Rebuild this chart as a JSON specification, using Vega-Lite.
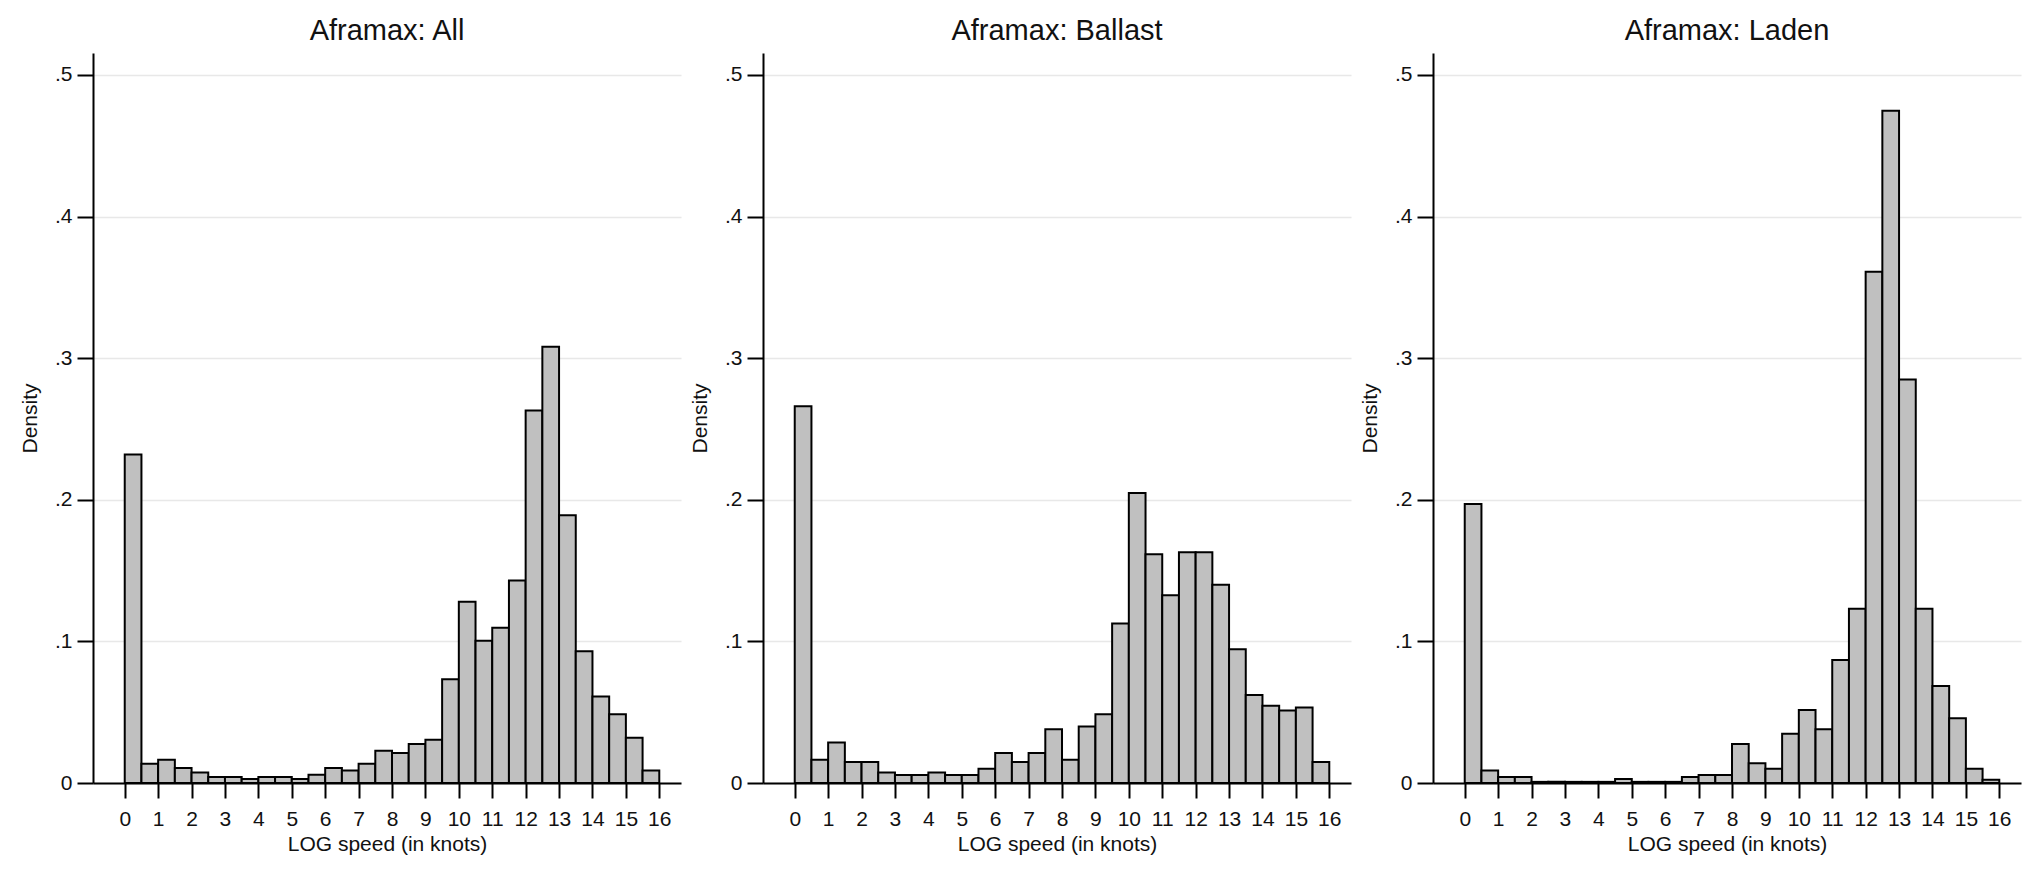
{
  "$schema": "https://vega.github.io/schema/vega-lite/v6.json",
  "padding": {"left": 19, "top": 17, "right": 2, "bottom": 2},
  "background": "white",
  "spacing": 8,
  "datasets": {
    "all": [
      {"lo": 0, "hi": 0.5, "density": 0.232}, {"lo": 0.5, "hi": 1, "density": 0.0136}, {"lo": 1, "hi": 1.5, "density": 0.0164}, {"lo": 1.5, "hi": 2, "density": 0.0106},
      {"lo": 2, "hi": 2.5, "density": 0.0075}, {"lo": 2.5, "hi": 3, "density": 0.0042}, {"lo": 3, "hi": 3.5, "density": 0.0042}, {"lo": 3.5, "hi": 4, "density": 0.0028},
      {"lo": 4, "hi": 4.5, "density": 0.0042}, {"lo": 4.5, "hi": 5, "density": 0.0042}, {"lo": 5, "hi": 5.5, "density": 0.0028}, {"lo": 5.5, "hi": 6, "density": 0.0059},
      {"lo": 6, "hi": 6.5, "density": 0.0106}, {"lo": 6.5, "hi": 7, "density": 0.0089}, {"lo": 7, "hi": 7.5, "density": 0.0136}, {"lo": 7.5, "hi": 8, "density": 0.0228},
      {"lo": 8, "hi": 8.5, "density": 0.0211}, {"lo": 8.5, "hi": 9, "density": 0.0275}, {"lo": 9, "hi": 9.5, "density": 0.0305}, {"lo": 9.5, "hi": 10, "density": 0.0732},
      {"lo": 10, "hi": 10.5, "density": 0.128}, {"lo": 10.5, "hi": 11, "density": 0.1005}, {"lo": 11, "hi": 11.5, "density": 0.1096}, {"lo": 11.5, "hi": 12, "density": 0.143},
      {"lo": 12, "hi": 12.5, "density": 0.263}, {"lo": 12.5, "hi": 13, "density": 0.308}, {"lo": 13, "hi": 13.5, "density": 0.189}, {"lo": 13.5, "hi": 14, "density": 0.093},
      {"lo": 14, "hi": 14.5, "density": 0.061}, {"lo": 14.5, "hi": 15, "density": 0.0486}, {"lo": 15, "hi": 15.5, "density": 0.032}, {"lo": 15.5, "hi": 16, "density": 0.0089}
    ],
    "ballast": [
      {"lo": 0, "hi": 0.5, "density": 0.266}, {"lo": 0.5, "hi": 1, "density": 0.0164}, {"lo": 1, "hi": 1.5, "density": 0.0286}, {"lo": 1.5, "hi": 2, "density": 0.0148},
      {"lo": 2, "hi": 2.5, "density": 0.0148}, {"lo": 2.5, "hi": 3, "density": 0.0075}, {"lo": 3, "hi": 3.5, "density": 0.0056}, {"lo": 3.5, "hi": 4, "density": 0.0056},
      {"lo": 4, "hi": 4.5, "density": 0.0075}, {"lo": 4.5, "hi": 5, "density": 0.0056}, {"lo": 5, "hi": 5.5, "density": 0.0056}, {"lo": 5.5, "hi": 6, "density": 0.0101},
      {"lo": 6, "hi": 6.5, "density": 0.0211}, {"lo": 6.5, "hi": 7, "density": 0.0148}, {"lo": 7, "hi": 7.5, "density": 0.0211}, {"lo": 7.5, "hi": 8, "density": 0.038},
      {"lo": 8, "hi": 8.5, "density": 0.0164}, {"lo": 8.5, "hi": 9, "density": 0.0399}, {"lo": 9, "hi": 9.5, "density": 0.0486}, {"lo": 9.5, "hi": 10, "density": 0.1127},
      {"lo": 10, "hi": 10.5, "density": 0.2047}, {"lo": 10.5, "hi": 11, "density": 0.1615}, {"lo": 11, "hi": 11.5, "density": 0.1326}, {"lo": 11.5, "hi": 12, "density": 0.163},
      {"lo": 12, "hi": 12.5, "density": 0.163}, {"lo": 12.5, "hi": 13, "density": 0.140}, {"lo": 13, "hi": 13.5, "density": 0.0944}, {"lo": 13.5, "hi": 14, "density": 0.0622},
      {"lo": 14, "hi": 14.5, "density": 0.0545}, {"lo": 14.5, "hi": 15, "density": 0.0512}, {"lo": 15, "hi": 15.5, "density": 0.0533}, {"lo": 15.5, "hi": 16, "density": 0.0148}
    ],
    "laden": [
      {"lo": 0, "hi": 0.5, "density": 0.197}, {"lo": 0.5, "hi": 1, "density": 0.0089}, {"lo": 1, "hi": 1.5, "density": 0.0042}, {"lo": 1.5, "hi": 2, "density": 0.0042},
      {"lo": 2, "hi": 2.5, "density": 0.0008}, {"lo": 2.5, "hi": 3, "density": 0.0008}, {"lo": 3, "hi": 3.5, "density": 0.0008}, {"lo": 3.5, "hi": 4, "density": 0.0008},
      {"lo": 4, "hi": 4.5, "density": 0.0008}, {"lo": 4.5, "hi": 5, "density": 0.0028}, {"lo": 5, "hi": 5.5, "density": 0.0008}, {"lo": 5.5, "hi": 6, "density": 0.0008},
      {"lo": 6, "hi": 6.5, "density": 0.0008}, {"lo": 6.5, "hi": 7, "density": 0.0042}, {"lo": 7, "hi": 7.5, "density": 0.0056}, {"lo": 7.5, "hi": 8, "density": 0.0056},
      {"lo": 8, "hi": 8.5, "density": 0.0275}, {"lo": 8.5, "hi": 9, "density": 0.014}, {"lo": 9, "hi": 9.5, "density": 0.0101}, {"lo": 9.5, "hi": 10, "density": 0.0347},
      {"lo": 10, "hi": 10.5, "density": 0.0516}, {"lo": 10.5, "hi": 11, "density": 0.038}, {"lo": 11, "hi": 11.5, "density": 0.0869}, {"lo": 11.5, "hi": 12, "density": 0.123},
      {"lo": 12, "hi": 12.5, "density": 0.361}, {"lo": 12.5, "hi": 13, "density": 0.4747}, {"lo": 13, "hi": 13.5, "density": 0.285}, {"lo": 13.5, "hi": 14, "density": 0.123},
      {"lo": 14, "hi": 14.5, "density": 0.0685}, {"lo": 14.5, "hi": 15, "density": 0.0458}, {"lo": 15, "hi": 15.5, "density": 0.0101}, {"lo": 15.5, "hi": 16, "density": 0.0023}
    ]
  },
  "hconcat": [
    {
      "title": "Aframax: All",
      "data": {"name": "all"},
      "width": 588, "height": 730,
      "mark": {"type": "bar", "fill": "#c0c0c0", "stroke": "#000000", "strokeWidth": 2},
      "encoding": {
        "x": {"field": "lo", "type": "quantitative", "title": "LOG speed (in knots)",
              "scale": {"domain": [-0.95, 16.65], "nice": false, "zero": false},
              "axis": {"values": [0,1,2,3,4,5,6,7,8,9,10,11,12,13,14,15,16], "grid": false}},
        "x2": {"field": "hi"},
        "y": {"field": "density", "type": "quantitative", "title": "Density",
              "scale": {"domain": [0, 0.5155], "nice": false},
              "axis": {"values": [0, 0.1, 0.2, 0.3, 0.4, 0.5], "grid": true,
                       "labelExpr": "datum.value == 0 ? '0' : replace(format(datum.value, '.1f'), '0.', '.')"}},
        "y2": {"datum": 0}
      }
    },
    {
      "title": "Aframax: Ballast",
      "data": {"name": "ballast"},
      "width": 588, "height": 730,
      "mark": {"type": "bar", "fill": "#c0c0c0", "stroke": "#000000", "strokeWidth": 2},
      "encoding": {
        "x": {"field": "lo", "type": "quantitative", "title": "LOG speed (in knots)",
              "scale": {"domain": [-0.95, 16.65], "nice": false, "zero": false},
              "axis": {"values": [0,1,2,3,4,5,6,7,8,9,10,11,12,13,14,15,16], "grid": false}},
        "x2": {"field": "hi"},
        "y": {"field": "density", "type": "quantitative", "title": "Density",
              "scale": {"domain": [0, 0.5155], "nice": false},
              "axis": {"values": [0, 0.1, 0.2, 0.3, 0.4, 0.5], "grid": true,
                       "labelExpr": "datum.value == 0 ? '0' : replace(format(datum.value, '.1f'), '0.', '.')"}},
        "y2": {"datum": 0}
      }
    },
    {
      "title": "Aframax: Laden",
      "data": {"name": "laden"},
      "width": 588, "height": 730,
      "mark": {"type": "bar", "fill": "#c0c0c0", "stroke": "#000000", "strokeWidth": 2},
      "encoding": {
        "x": {"field": "lo", "type": "quantitative", "title": "LOG speed (in knots)",
              "scale": {"domain": [-0.95, 16.65], "nice": false, "zero": false},
              "axis": {"values": [0,1,2,3,4,5,6,7,8,9,10,11,12,13,14,15,16], "grid": false}},
        "x2": {"field": "hi"},
        "y": {"field": "density", "type": "quantitative", "title": "Density",
              "scale": {"domain": [0, 0.5155], "nice": false},
              "axis": {"values": [0, 0.1, 0.2, 0.3, 0.4, 0.5], "grid": true,
                       "labelExpr": "datum.value == 0 ? '0' : replace(format(datum.value, '.1f'), '0.', '.')"}},
        "y2": {"datum": 0}
      }
    }
  ],
  "resolve": {"scale": {"x": "independent", "y": "independent"}},
  "config": {
    "font": "Liberation Sans",
    "view": {"stroke": null},
    "title": {"fontSize": 29, "fontWeight": "normal", "color": "#111111", "anchor": "middle", "frame": "group", "baseline": "alphabetic", "offset": 7},
    "axis": {
      "domainColor": "#000000", "domainWidth": 2,
      "tickColor": "#000000", "tickWidth": 2,
      "labelFontSize": 21, "labelColor": "#111111",
      "titleFontSize": 21, "titleFontWeight": "normal", "titleColor": "#111111",
      "gridColor": "#e8e8e8", "gridWidth": 1.5
    },
    "axisX": {"tickSize": 15, "labelPadding": 10, "titlePadding": 4, "labelFlush": false, "labelOverlap": false},
    "axisY": {"tickSize": 16, "labelPadding": 5, "titlePadding": 14, "labelOverlap": false}
  }
}
